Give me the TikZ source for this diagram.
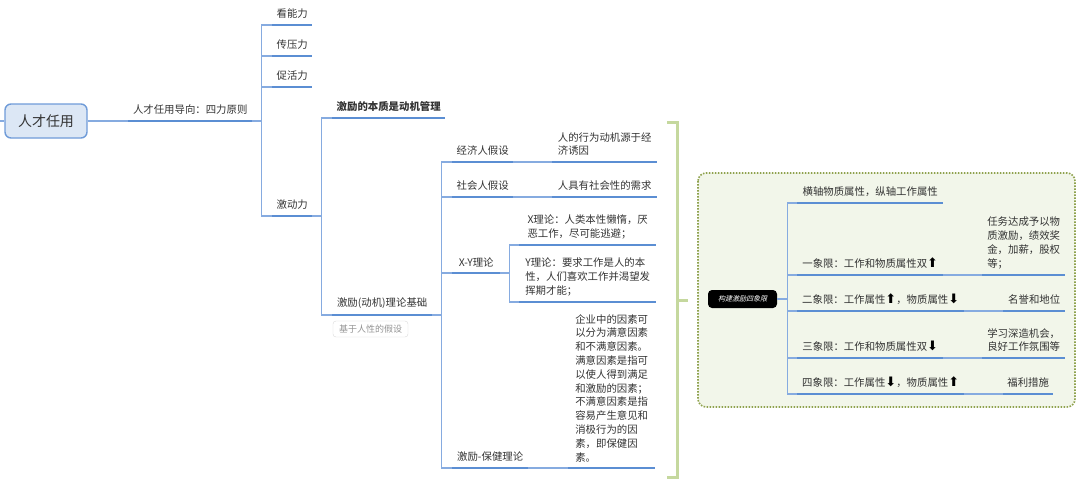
\documentclass[tikz,border=0pt]{standalone}
\usepackage{fontspec}
\setmainfont{Noto Sans CJK SC}
\newfontfamily\arrowfont{DejaVu Sans}
\newfontfamily\slantfont{Noto Sans CJK SC}[FakeSlant=0.25]
\usepackage{xcolor}
\usetikzlibrary{positioning}
\definecolor{linkblue}{HTML}{86ABE0}
\definecolor{lineblue}{HTML}{5B8ED3}
\definecolor{rootdraw}{HTML}{6F9BD8}
\definecolor{rootfill}{HTML}{DCE7F5}
\definecolor{txtgray}{HTML}{333333}
\definecolor{sumgreen}{HTML}{C5D89E}
\definecolor{boxfill}{HTML}{F2F6EA}
\definecolor{boxdot}{HTML}{8FA24E}
\newcommand\upar{{\arrowfont\fontsize{13}{13.8}\selectfont\color{black}\char"2B06}}
\newcommand\dnar{{\arrowfont\fontsize{13}{13.8}\selectfont\color{black}\char"2B07}}

\begin{document}
\begin{tikzpicture}[x=1pt, y=-1pt,
    font=\fontsize{10.4}{13.8}\selectfont, text=txtgray,
    rootbox/.style={draw=rootdraw, fill=rootfill, rounded corners=6pt,
      minimum width=82pt, minimum height=34pt, line width=1.4pt,
      font=\fontsize{14}{16}\selectfont},
    topic/.style={anchor=south west, inner xsep=0pt, inner ysep=6pt,
      align=left},
    quadbox/.style={fill=black, text=white, rounded corners=4pt,
      minimum width=69pt, minimum height=18pt, inner sep=0pt,
      font={\slantfont\fontsize{7}{8}\selectfont}},
    tag/.style={draw=gray!30, rounded corners=3pt, text=gray!85,
      minimum width=75pt, minimum height=16pt, inner sep=1pt,
      font=\fontsize{9}{10}\selectfont},
    uline/.style={draw=lineblue, line width=2pt},
    link/.style={draw=linkblue, line width=1.1pt},
    summary/.style={draw=sumgreen, line width=3pt},
    quadframe/.style={draw=boxdot, fill=boxfill, rounded corners=8pt,
      line width=1.6pt, dash pattern=on 1.6pt off 1.4pt}
]
\useasboundingbox (0,0) rectangle (1080,483);
\draw[quadframe] (698,173) rectangle (1075,407);

\node[rootbox] (root) at (46,121) {人才任用};
\coordinate (edge) at (0,121);
\node[topic, minimum width=124pt] (dao) at (128,121) {人才任用导向：四力原则};
\node[topic, minimum width=40pt] (kan)   at (272,25)  {看能力};
\node[topic, minimum width=40pt] (chuan) at (272,56)  {传压力};
\node[topic, minimum width=40pt] (cu)    at (272,87)  {促活力};
\node[topic, minimum width=40pt] (jdl)   at (272,216) {激动力};
\node[topic, minimum width=113pt, font=\fontsize{10.4}{13.8}\selectfont\bfseries]
  (benzhi) at (332,118) {激励的本质是动机管理};
\node[topic, minimum width=100pt] (jichu) at (332,315) {激励(动机)理论基础};
\node[tag] (hyp) at (370.5,329) {基于人性的假设};

\node[topic, minimum width=61pt]  (jingji)  at (452,162) {经济人假设};
\node[topic, minimum width=105pt] (jingjic) at (552,162) {人的行为动机源于经\\济诱因};
\node[topic, minimum width=61pt]  (shehui)  at (452,197) {社会人假设};
\node[topic, minimum width=105pt] (shehuic) at (552,197) {人具有社会性的需求};
\node[topic, minimum width=48pt]  (xy)      at (452,273) {X-Y理论};
\node[topic, minimum width=137pt] (xth) at (519,245)
  {X理论：人类本性懒惰，厌\\恶工作，尽可能逃避；};
\node[topic, minimum width=137pt] (yth) at (519,302)
  {Y理论：要求工作是人的本\\性，人们喜欢工作并渴望发\\挥期才能；};
\node[topic, minimum width=76pt]  (bj)  at (452,468) {激励-保健理论};
\node[topic, minimum width=87pt]  (bjc) at (568,468)
  {企业中的因素可\\以分为满意因素\\和不满意因素。\\满意因素是指可\\以使人得到满足\\和激励的因素；\\不满意因素是指\\容易产生意见和\\消极行为的因\\素，即保健因\\素。};

\coordinate (brtop) at (667,122);
\coordinate (brbot) at (667,477);
\coordinate (brtip) at (688,300);
\node[quadbox] (quad) at (742.5,299) {构建激励四象限};
\node[topic, minimum width=146pt] (hz)  at (797,203) {横轴物质属性，纵轴工作属性};
\node[topic, minimum width=146pt] (q1)  at (797,275) {一象限：工作和物质属性双\upar};
\node[topic, minimum width=83pt]  (q1c) at (982,275) {任务达成予以物\\质激励，绩效奖\\金，加薪，股权\\等；};
\node[topic, minimum width=167pt] (q2)  at (797,311) {二象限：工作属性\upar，物质属性\dnar};
\node[topic, minimum width=62pt]  (q2c) at (1003,311) {名誉和地位};
\node[topic, minimum width=146pt] (q3)  at (797,358) {三象限：工作和物质属性双\dnar};
\node[topic, minimum width=83pt]  (q3c) at (982,358) {学习深造机会，\\良好工作氛围等};
\node[topic, minimum width=167pt] (q4)  at (797,394) {四象限：工作属性\dnar，物质属性\upar};
\node[topic, minimum width=50pt]  (q4c) at (1003,394) {福利措施};

\draw[link] (edge) -- (root.west);
\draw[link] (root.east) -- (dao.south west);
\foreach \n in {kan,chuan,cu,jdl}
  \draw[link] (dao.south east) -- ++(9,0) |- (\n.south west);
\foreach \n in {benzhi,jichu}
  \draw[link] (jdl.south east) -- ++(9,0) |- (\n.south west);
\foreach \n in {jingji,shehui,xy,bj}
  \draw[link] (jichu.south east) -- ++(9,0) |- (\n.south west);
\foreach \n in {xth,yth}
  \draw[link] (xy.south east) -- ++(9,0) |- (\n.south west);
\draw[link] (jingji.south east) -- (jingjic.south west);
\draw[link] (shehui.south east) -- (shehuic.south west);
\draw[link] (bj.south east) -- (bjc.south west);
\foreach \n in {hz,q1,q2,q3,q4}
  \draw[link] (quad.east) -- ++(10,0) |- (\n.south west);
\draw[link] (q1.south east) -- (q1c.south west);
\draw[link] (q2.south east) -- (q2c.south west);
\draw[link] (q3.south east) -- (q3c.south west);
\draw[link] (q4.south east) -- (q4c.south west);

\foreach \n in {dao,kan,chuan,cu,jdl,benzhi,jichu,jingji,jingjic,shehui,shehuic,
    xy,xth,yth,bj,bjc,hz,q1,q1c,q2,q2c,q3,q3c,q4,q4c}
  \draw[uline] (\n.south west) -- (\n.south east);

\draw[summary] (brtop) -- ++(10,0) |- (brbot);
\draw[summary] (brtop -| brtip) ++(-11,0) coordinate (brmid) (brmid |- brtip) -- (brtip);
\end{tikzpicture}
\end{document}
